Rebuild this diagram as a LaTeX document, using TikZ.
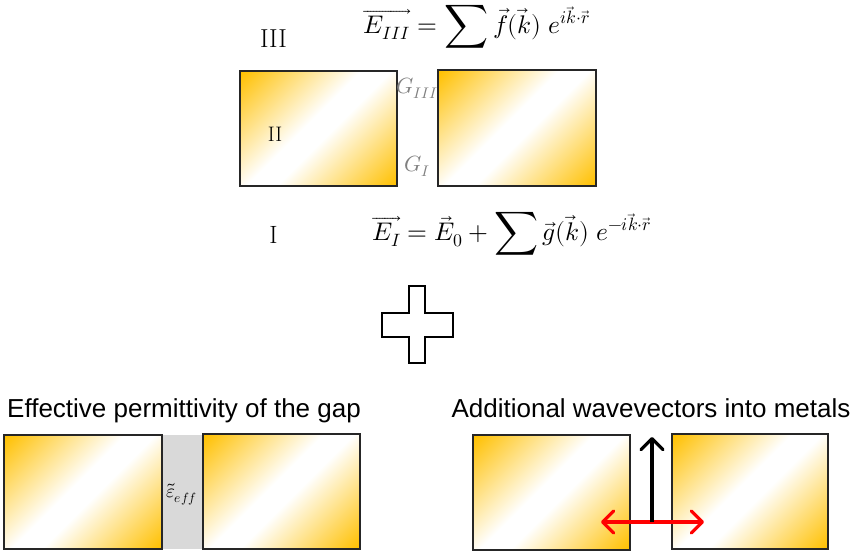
\documentclass[tikz,border=0pt]{standalone}
\usepackage{amsmath}
\usepackage{graphicx}
\usepackage{fontspec}
\usepackage{unicode-math}
\setmathfont{Latin Modern Math}
\newfontfamily\arialf{Liberation Sans}
\usetikzlibrary{arrows.meta}
\definecolor{gold}{RGB}{255,192,0}
\definecolor{gapgray}{RGB}{217,217,217}
\definecolor{lblgray}{RGB}{128,128,128}
\pgfdeclarehorizontalshading{metal}{100bp}{color(0bp)=(gold); color(15bp)=(gold); color(46bp)=(white); color(54bp)=(white); color(85bp)=(gold); color(100bp)=(gold)}
\newcommand{\bigsumx}{\mathop{\vcenter{\hbox{\scalebox{1.2}{$\displaystyle\sum$}}}}}
\tikzset{
  metalbox/.style={draw=black!85, line width=1.3pt, shading=metal, shading angle=-45, inner sep=0pt},
  title/.style={font=\arialf\fontsize{26}{30}\selectfont, anchor=base},
  eqn/.style={font=\fontsize{25.5}{30}\selectfont, anchor=base west, inner sep=0pt},
  roman/.style={anchor=base, inner sep=0pt},
  glabel/.style={text=lblgray, font=\fontsize{22}{26}\selectfont, inner sep=0pt},
  barb/.tip={Straight Barb[length=11pt,width=22pt,line cap=round,line join=round]},
  arr/.style={line width=3.3pt},
}
\begin{document}
\begin{tikzpicture}[x=1pt,y=-1pt]
\useasboundingbox (0,0) rectangle (857,555);
% top
\node[metalbox, minimum width=157pt, minimum height=115pt] (TL) at (318.5,128.5) {};
\node[metalbox, minimum width=158pt, minimum height=116pt] (TR) at (517,128) {};
\node[roman, font=\fontsize{26}{30}\selectfont] (n3) at (273.5,47) {III};
\node[roman, font=\fontsize{21}{25}\selectfont] (n2) at (275,141) {II};
\node[roman, font=\fontsize{25}{29}\selectfont] (n1) at (273.5,243) {I};
\node[glabel] (G3) at (417.5,88) {$G_{III}$};
\node[glabel] (G1) at (417,166) {$G_{I}$};
\node[eqn] (e3) at (363,33) {$\displaystyle \overrightarrow{E_{III}} = \bigsumx \vec{f}(\vec{k})\; e^{i\vec{k}\cdot\vec{r}}$};
\node[eqn] (e1) at (372,240) {$\displaystyle \overrightarrow{E_{I}} = \vec{E}_0 + \bigsumx \vec{g}(\vec{k})\; e^{-i\vec{k}\cdot\vec{r}}$};
% plus
\draw[line width=2.5pt, fill=white] (409,286) -- (425,286) -- (425,313) -- (453,313) -- (453,337) -- (425,337) -- (425,363) -- (409,363) -- (409,337) -- (382,337) -- (382,313) -- (409,313) -- cycle;
% bottom left
\node[title] (t1) at (184,417) {Effective permittivity of the gap};
\node[fill=gapgray, minimum width=41pt, minimum height=114pt, inner sep=0pt] (gap) at (182.5,492) {};
\node[metalbox, minimum width=158pt, minimum height=114pt] (BL1) at (83,492) {};
\node[metalbox, minimum width=157pt, minimum height=115pt] (BL2) at (281.5,491.5) {};
\node[font=\fontsize{19}{22}\selectfont, inner sep=0pt] (eps) at (181.5,494) {$\tilde{\varepsilon}_{eff}$};
% bottom right
\node[title] (t2) at (651,417) {Additional wavevectors into metals};
\node[metalbox, minimum width=157pt, minimum height=115pt] (BR1) at (551.5,492.5) {};
\node[metalbox, minimum width=156pt, minimum height=115pt] (BR2) at (750,491.5) {};
\coordinate (o) at (652,522);
\coordinate (up) at (652,437);
\coordinate (lf) at (601,522);
\coordinate (rt) at (704,522);
\draw[arr, red, barb-barb] (lf) -- (rt);
\draw[arr, black, -barb] (o) -- (up);
\end{tikzpicture}
\end{document}
